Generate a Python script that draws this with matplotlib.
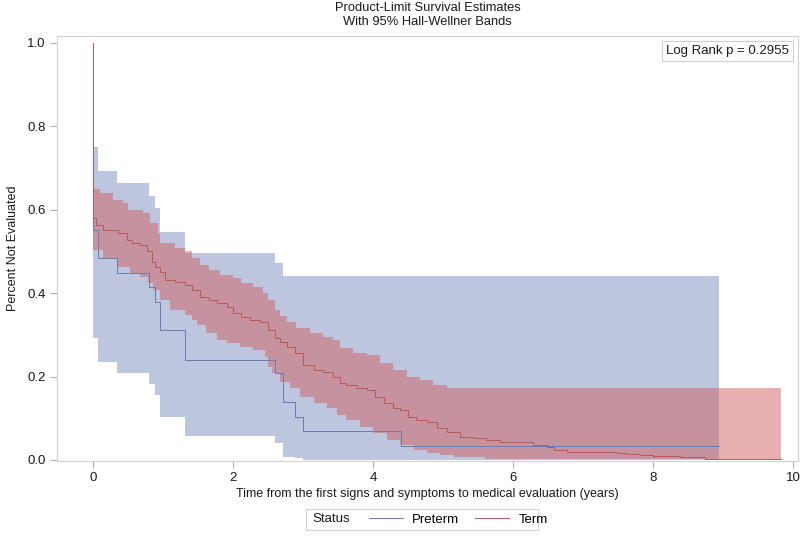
import matplotlib
matplotlib.use("Agg")
import matplotlib.pyplot as plt
from matplotlib.lines import Line2D
from matplotlib.patches import Rectangle
import numpy as np

plt.rcParams['font.family'] = ['Liberation Sans', 'DejaVu Sans']

# ---- Data ----
# Preterm: Kaplan-Meier steps and Hall-Wellner band
pre_t = [0.0, 0.076, 0.34, 0.80, 0.886, 0.957, 1.314, 2.60, 2.71, 2.886, 2.996, 4.40]
pre_s = [0.552, 0.484, 0.449, 0.414, 0.380, 0.312, 0.241, 0.209, 0.140, 0.104, 0.070, 0.034]
pre_upper = [0.751, 0.694, 0.664, 0.633, 0.605, 0.547, 0.496, 0.472, 0.441, 0.441, 0.441, 0.441]
pre_lower = [0.292, 0.236, 0.208, 0.182, 0.156, 0.104, 0.058, 0.040, 0.008, 0.004, 0.0, 0.0]
pre_end = 8.94

# Term: Kaplan-Meier steps
term_t = [0.0, 0.05, 0.15, 0.36, 0.48, 0.55, 0.67, 0.77, 0.84, 0.886, 0.957, 1.03, 1.17,
          1.31, 1.41, 1.53, 1.65, 1.77, 1.91, 2.0, 2.12, 2.24, 2.39, 2.50, 2.60, 2.67,
          2.77, 2.89, 3.0, 3.15, 3.29, 3.43, 3.53, 3.62, 3.77, 3.91, 4.03, 4.15, 4.29,
          4.39, 4.50, 4.62, 4.77, 4.91, 5.05, 5.24, 5.43, 5.62, 5.81, 6.1, 6.29, 6.48,
          6.58, 6.77, 6.96, 7.48, 7.62, 7.81, 8.0, 8.39, 8.67, 8.74]
term_s = [0.580, 0.564, 0.552, 0.544, 0.528, 0.520, 0.516, 0.500, 0.476, 0.464, 0.452,
          0.432, 0.428, 0.420, 0.408, 0.392, 0.384, 0.376, 0.368, 0.352, 0.344, 0.336,
          0.332, 0.312, 0.292, 0.284, 0.272, 0.256, 0.228, 0.216, 0.212, 0.200, 0.184,
          0.180, 0.172, 0.168, 0.152, 0.136, 0.124, 0.120, 0.104, 0.096, 0.092, 0.076,
          0.068, 0.056, 0.052, 0.048, 0.044, 0.042, 0.036, 0.032, 0.024, 0.020, 0.018,
          0.016, 0.014, 0.012, 0.010, 0.008, 0.006, 0.002]
term_end = 9.83

# Term: Hall-Wellner band
term_up_t = [0.0, 0.1, 0.29, 0.43, 0.50, 0.72, 0.81, 0.93, 0.96, 1.17, 1.31, 1.41, 1.53,
             1.65, 1.81, 2.0, 2.12, 2.29, 2.43, 2.50, 2.60, 2.67, 2.77, 2.9, 3.1, 3.29,
             3.43, 3.53, 3.72, 3.91, 4.1, 4.29, 4.48, 4.67, 4.86, 5.05, 5.34]
term_up = [0.650, 0.640, 0.624, 0.616, 0.600, 0.592, 0.568, 0.544, 0.520, 0.508, 0.500,
           0.484, 0.468, 0.456, 0.444, 0.436, 0.424, 0.416, 0.400, 0.384, 0.360, 0.345,
           0.330, 0.316, 0.305, 0.296, 0.288, 0.268, 0.256, 0.252, 0.232, 0.216, 0.200,
           0.192, 0.180, 0.173, 0.172]
term_lo_t = [0.0, 0.15, 0.34, 0.53, 0.67, 0.79, 0.86, 0.96, 1.1, 1.31, 1.41, 1.48, 1.62,
             1.77, 1.91, 2.1, 2.29, 2.46, 2.5, 2.55, 2.67, 2.81, 2.96, 3.15, 3.34, 3.48,
             3.62, 3.81, 4.0, 4.2, 4.39, 4.58, 4.77, 4.96, 5.15, 5.34, 5.6]
term_lo = [0.504, 0.484, 0.464, 0.448, 0.440, 0.424, 0.408, 0.384, 0.360, 0.348, 0.336,
           0.324, 0.304, 0.288, 0.280, 0.272, 0.264, 0.248, 0.224, 0.208, 0.186, 0.172,
           0.152, 0.136, 0.124, 0.108, 0.096, 0.080, 0.064, 0.048, 0.036, 0.024, 0.016,
           0.012, 0.008, 0.006, 0.003]

x_ticks = [0, 2, 4, 6, 8, 10]
y_ticks = [0.0, 0.2, 0.4, 0.6, 0.8, 1.0]
log_rank_p = 0.2955
groups = ["Preterm", "Term"]

# ---- Styles ----
BLUE_LINE = "#6d7bab"
RED_LINE = "#b85858"
BLUE_FILL = "#7d8dc1"
RED_FILL = "#d16161"
GRID_GREY = "#d0d0d0"
TEXT = "#1a1a1a"


def step_path(t, s, t_end):
    xs, ys = [], []
    for i in range(len(t)):
        x0 = t[i]
        x1 = t[i + 1] if i + 1 < len(t) else t_end
        xs += [x0, x1]
        ys += [s[i], s[i]]
    return xs, ys


def band_polygon(ut, uv, lt, lv, t_end):
    ux, uy = step_path(ut, uv, t_end)
    lx, ly = step_path(lt, lv, t_end)
    return ux + lx[::-1], uy + ly[::-1]


fig = plt.figure(figsize=(8, 5.4), dpi=100)
L, R, T, B = 57, 798, 36, 461
ax = fig.add_axes([L / 800, 1 - B / 540, (R - L) / 800, (B - T) / 540])

# bands
bx, by = band_polygon(pre_t, pre_upper, pre_t, pre_lower, pre_end)
ax.fill(bx, by, color=BLUE_FILL, alpha=0.5, lw=0, zorder=1)
bx, by = band_polygon(term_up_t, term_up, term_lo_t, term_lo, term_end)
ax.fill(bx, by, color=RED_FILL, alpha=0.5, lw=0, zorder=2)

# survival curves (start at 1.0 at time 0)
px, py = step_path([0.0] + pre_t, [1.0] + pre_s, pre_end)
ax.plot(px, py, color=BLUE_LINE, lw=0.7, zorder=3)
tx, ty = step_path([0.0] + term_t, [1.0] + term_s, term_end)
ax.plot(tx, ty, color=RED_LINE, lw=0.7, zorder=3)

ax.set_xlim((L - 93) / 70.0, (R - 93) / 70.0)
ax.set_ylim(-1 / 417, (460 - T) / 417)
ax.set_xticks(x_ticks)
ax.set_xticklabels([str(v) for v in x_ticks])
ax.set_yticks(y_ticks)
ax.set_yticklabels([f"{v:.1f}" for v in y_ticks])
ax.tick_params(axis='both', direction='out', length=5, width=0.8, color="#b0b0b0",
               labelsize=9.5, labelcolor=TEXT, pad=3)
for sp in ax.spines.values():
    sp.set_color(GRID_GREY)
    sp.set_linewidth(0.8)

ax.set_xlabel("Time from the first signs and symptoms to medical evaluation (years)",
              fontsize=9, color=TEXT, labelpad=3)
ax.set_ylabel("Percent Not Evaluated", fontsize=9, color=TEXT, labelpad=6)

fig.text((L + R) / 2 / 800, 1 - 8 / 540, "Product-Limit Survival Estimates",
         ha='center', va='center', fontsize=9.3, color=TEXT)
fig.text((L + R) / 2 / 800, 1 - 22 / 540, "With 95% Hall-Wellner Bands",
         ha='center', va='center', fontsize=9.3, color=TEXT)

# log-rank box
ax.text(0.988, 0.978, f"Log Rank p = {log_rank_p:.4f}", transform=ax.transAxes,
        ha='right', va='top', fontsize=9.5, color=TEXT,
        bbox=dict(boxstyle='square,pad=0.3', fc='white', ec=GRID_GREY, lw=0.8))

# legend
fig.patches.append(Rectangle((306 / 800, 1 - 530 / 540), (538 - 306) / 800, 21 / 540,
                             transform=fig.transFigure, fill=False, ec=GRID_GREY, lw=0.8))
fig.text(312 / 800, 1 - 519.5 / 540, "Status", ha='left', va='center', fontsize=9.5, color=TEXT)
handles = [Line2D([], [], color=BLUE_LINE, lw=0.7), Line2D([], [], color=RED_LINE, lw=0.7)]
fig.legend(handles, groups, loc='center left', bbox_to_anchor=(362 / 800, 1 - 519.5 / 540),
           ncol=2, frameon=False, fontsize=9.5, handlelength=2.6, handletextpad=0.7,
           columnspacing=1.2, borderpad=0.0)

fig.savefig("out.png", dpi=100)
